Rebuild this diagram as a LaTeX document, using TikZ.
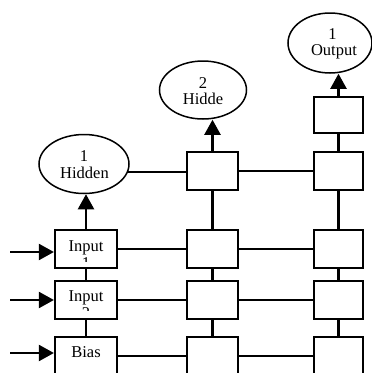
\documentclass[tikz,border=0pt]{standalone}
\usepackage{fontspec}
\setmainfont{Liberation Serif}
\usetikzlibrary{arrows.meta,shapes.geometric}
\begin{document}
\begin{tikzpicture}[x=1pt,y=-1pt,
  cell/.style={draw, line width=2.2pt, inner sep=0pt, minimum height=38pt},
  oval/.style={draw, ellipse, line width=1.5pt, inner sep=0pt},
  txt/.style={font=\fontsize{16.5}{17}\selectfont, inner sep=0pt, anchor=base},
  link/.style={line width=2.2pt},
  arr/.style={line width=2.2pt, -{Triangle[length=15pt,width=16pt]}}]
\useasboundingbox (0,0) rectangle (372,373);
\clip (0,0) rectangle (372,373);
% column 1
\node[cell, minimum width=62pt] (in1) at (86,249) {};
\node[cell, minimum width=62pt] (in2) at (86,300) {};
\node[cell, minimum width=62pt] (bias) at (86,356) {};
% column 2
\node[cell, minimum width=51pt] (c2h) at (212.5,171) {};
\node[cell, minimum width=51pt] (c2a) at (212.5,249) {};
\node[cell, minimum width=51pt] (c2b) at (212.5,300) {};
\node[cell, minimum width=51pt] (c2c) at (212.5,356) {};
% column 3
\node[cell, minimum width=49pt, minimum height=36pt] (c3o) at (338.5,115) {};
\node[cell, minimum width=49pt] (c3h) at (338.5,171) {};
\node[cell, minimum width=49pt] (c3a) at (338.5,249) {};
\node[cell, minimum width=49pt] (c3b) at (338.5,300) {};
\node[cell, minimum width=49pt] (c3c) at (338.5,356) {};
% ellipses
\node[oval, minimum width=90pt, minimum height=59pt] (h1) at (84,164) {};
\node[oval, minimum width=87pt, minimum height=58pt] (h2) at (203,90) {};
\node[oval, minimum width=84pt, minimum height=60pt] (out) at (330,43) {};
% texts
\node[txt] (h1a) at (84,161.7) {1};
\node[txt] (h1b) at (84.5,178.3) {Hidden};
\node[txt] (h2a) at (203,88.3) {2};
\node[txt] (h2b) at (203,104) {Hidde};
\node[txt] (oa) at (332.5,39.3) {1};
\node[txt] (ob) at (334,55) {Output};
\node[txt] (in1t) at (86,251) {Input};
\node[txt] (in2t) at (86,301.7) {Input};
\node[txt] (biast) at (86,357) {Bias};
\begin{scope}
  \clip (55,230) rectangle (117,261);
  \node[txt] (in1n) at (86,268) {1};
\end{scope}
\begin{scope}
  \clip (55,281) rectangle (117,310);
  \node[txt] (in2n) at (86,318.5) {2};
\end{scope}
% input arrows
\coordinate (s1) at (10,252);
\coordinate (s2) at (10,300);
\coordinate (s3) at (10,353);
\draw[arr] (s1) -- (s1 -| in1.west);
\draw[arr] (s2) -- (s2 -| in2.west);
\draw[arr] (s3) -- (s3 -| bias.west);
% vertical links
\draw[link] (in1.south) -- (in2.north);
\draw[link] (in2.south) -- (bias.north);
\draw[link] (c2h.south) -- (c2a.north);
\draw[link] (c2a.south) -- (c2b.north);
\draw[link] (c2b.south) -- (c2c.north);
\draw[link] (c3o.south) -- (c3h.north);
\draw[link] (c3h.south) -- (c3a.north);
\draw[link] (c3a.south) -- (c3b.north);
\draw[link] (c3b.south) -- (c3c.north);
% horizontal links
\draw[link] (h1.-10.5) -- (h1.-10.5 -| c2h.west);
\draw[link] (c2h.east) -- (c3h.west);
\draw[link] (in1.east) -- (c2a.west);
\draw[link] (c2a.east) -- (c3a.west);
\draw[link] (in2.east) -- (c2b.west);
\draw[link] (c2b.east) -- (c3b.west);
\draw[link] (bias.east) -- (c2c.west);
\draw[link] (c2c.east) -- (c3c.west);
% upward arrows
\draw[arr] (in1.north) -- (in1.north |- h1.south);
\draw[arr] (c2h.north) -- (c2h.north |- h2.south);
\draw[arr] (c3o.north) -- (c3o.north |- out.south);
\end{tikzpicture}
\end{document}
